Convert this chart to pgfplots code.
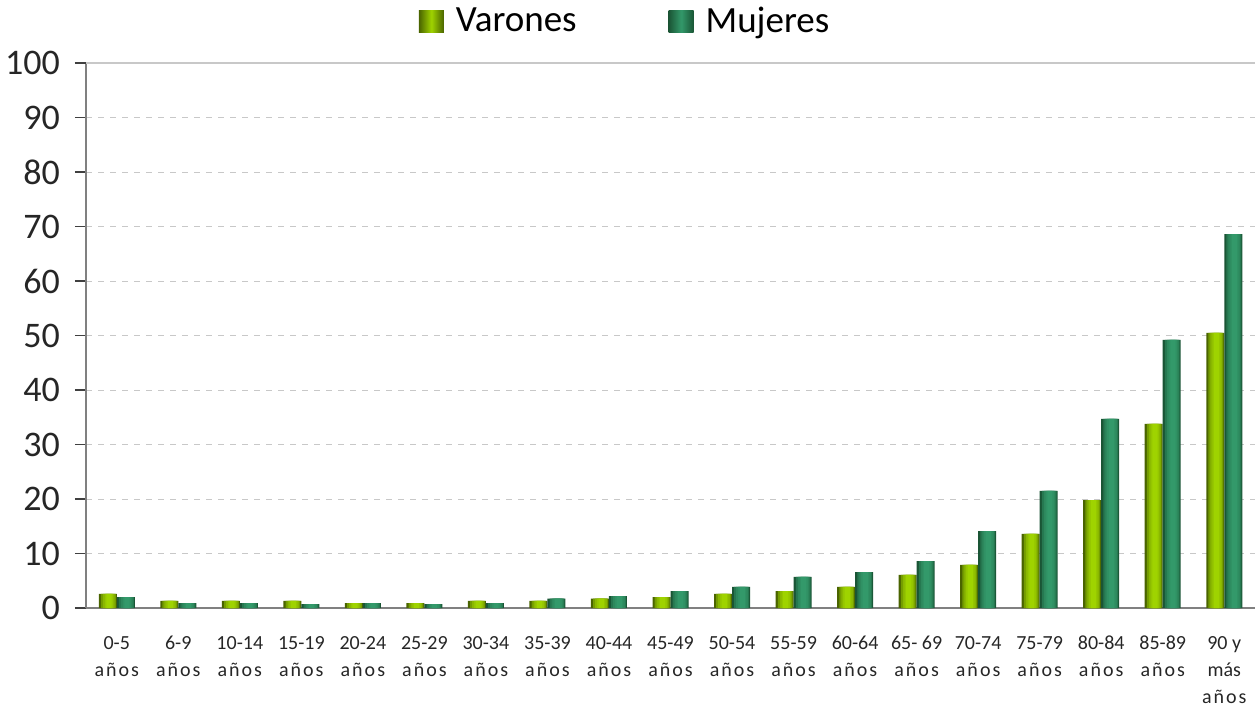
\documentclass[border=0pt]{standalone}
\usepackage{fontspec}
\setmainfont{Carlito}
\newfontfamily\spaced[LetterSpace=10]{Carlito}
\usepackage{pgfplots}
\pgfplotsset{compat=1.18}

\definecolor{vedge}{HTML}{4A6400}
\definecolor{vmid}{HTML}{9FD300}
\definecolor{medge}{HTML}{1A5535}
\definecolor{mmid}{HTML}{33996A}
\definecolor{gridc}{HTML}{C8C8C8}
\definecolor{axc}{HTML}{808080}

\pgfplotstableread{
x V M
0 2.6 2.0
1 1.3 0.9
2 1.3 0.9
3 1.3 0.7
4 0.9 0.9
5 0.9 0.7
6 1.3 0.9
7 1.3 1.7
8 1.7 2.2
9 2.0 3.1
10 2.6 3.9
11 3.1 5.7
12 3.9 6.6
13 6.1 8.6
14 7.9 14.1
15 13.6 21.5
16 19.8 34.7
17 33.8 49.2
18 50.5 68.6
}\datatable

\newcommand{\an}{{\spaced años}}
% one layer of a bar: colour, width, shift, column
\newcommand{\lay}[4]{\addplot[ybar, draw=none, fill=#1, bar width=#2, bar shift=#3, forget plot]
  table[x=x, y=#4] {\datatable};}

\begin{document}
\begin{tikzpicture}
\begin{axis}[
  scale only axis, width=584.5pt, height=272.5pt,
  xmin=-0.5, xmax=18.5, ymin=0, ymax=100,
  axis x line*=bottom, axis y line*=left,
  axis line style={axc, line width=0.8pt, -},
  xtick={0,...,18},
  xticklabels={0-5\\\an, 6-9\\\an, 10-14\\\an, 15-19\\\an, 20-24\\\an, 25-29\\\an,
    30-34\\\an, 35-39\\\an, 40-44\\\an, 45-49\\\an, 50-54\\\an, 55-59\\\an,
    60-64\\\an, 65- 69\\\an, 70-74\\\an, 75-79\\\an, 80-84\\\an, 85-89\\\an, 90 y\\más\\\an},
  xticklabel style={align=center, font=\fontsize{10}{13.5}\selectfont, text=black!85, yshift=-5pt},
  x tick style={draw=none},
  extra x ticks={-0.5,0.5,...,18.5},
  extra x tick labels={},
  extra x tick style={grid=none, tick align=outside, major tick length=6pt,
    tick style={draw=black!70, line width=0.6pt}},
  ytick={0,10,...,100},
  yticklabel style={font=\fontsize{18}{18}\selectfont, text=black!85, xshift=-4pt},
  extra y ticks={100}, extra y tick labels={},
  extra y tick style={grid style={solid, gridc, line width=0.6pt}},
  /pgf/number format/assume math mode=true,
  y tick style={draw=black!75, line width=0.6pt},
  tick align=outside, major tick length=5.5pt,
  ymajorgrids, grid style={gridc, dashed, line width=0.5pt},
  legend style={at={(0.462,1.035)}, anchor=south, draw=none, fill=none,
    legend columns=2, font=\fontsize{18.5}{18.5}\selectfont,
    /tikz/every odd column/.append style={column sep=4pt},
    /tikz/every even column/.append style={column sep=44pt}},
  legend image code/.code={\path[#1] (0pt,-5.5pt) rectangle (12.5pt,5.5pt);},
]
% Varones
\lay{vedge}{9pt}{-4.5pt}{V}
\lay{vedge!50!vmid}{7.4pt}{-4.2pt}{V}
\lay{vedge!25!vmid}{5.8pt}{-4.0pt}{V}
\lay{vedge!12!vmid}{4.2pt}{-3.9pt}{V}
\lay{vmid}{2.6pt}{-3.9pt}{V}
% Mujeres
\lay{medge}{9pt}{4.5pt}{M}
\lay{medge!50!mmid}{7.4pt}{4.8pt}{M}
\lay{medge!25!mmid}{5.8pt}{5.0pt}{M}
\lay{medge!12!mmid}{4.2pt}{5.1pt}{M}
\lay{mmid}{2.6pt}{5.1pt}{M}
\addlegendimage{draw=none, left color=vedge, right color=vedge, middle color=vmid}
\addlegendentry{Varones}
\addlegendimage{draw=none, left color=medge, right color=medge, middle color=mmid}
\addlegendentry{Mujeres}
\end{axis}
\pgfresetboundingbox
\path ([xshift=-43pt,yshift=-50pt]current axis.south west)
  rectangle ([yshift=31.5pt]current axis.north east);
\end{tikzpicture}
\end{document}
